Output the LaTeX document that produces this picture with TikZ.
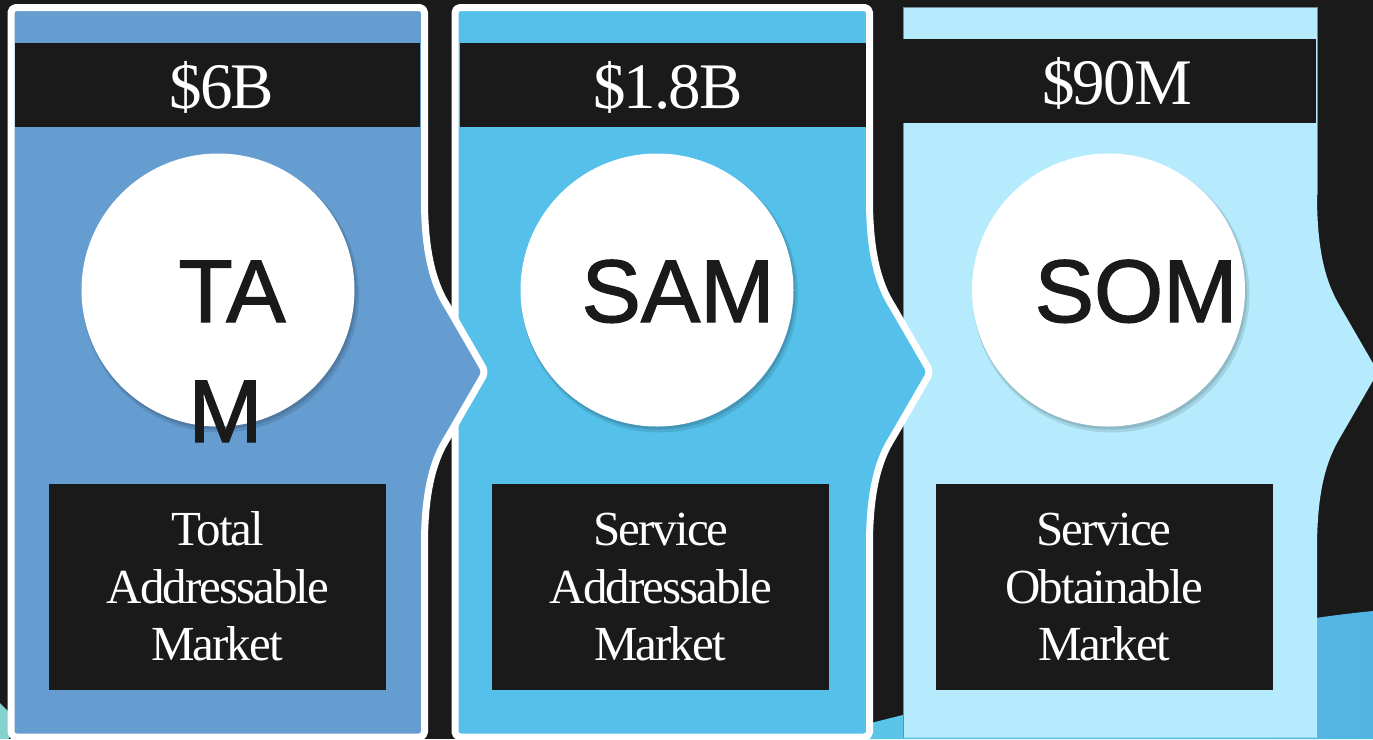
\documentclass[tikz,border=0pt]{standalone}
\usepackage{fontspec}
\setmainfont{Liberation Serif}
\newfontfamily\sansf[FakeBold=1.5]{Liberation Sans}
\newfontfamily\boxf[LetterSpace=-4]{Liberation Serif}
\newfontfamily\headf[LetterSpace=-3]{Liberation Serif}
\definecolor{dark}{HTML}{1A1A1A}
\definecolor{cA}{HTML}{659DD1}
\definecolor{cB}{HTML}{55C1EA}
\definecolor{cC}{HTML}{B5EBFC}
\definecolor{waveL}{HTML}{5CC6E8}
\definecolor{waveR}{HTML}{52B4E3}
\definecolor{teal}{HTML}{84D2CD}
\definecolor{edgeC}{HTML}{6E8C9C}
\newcommand\arrowside[1]{-- (#1,195) .. controls (#1,255) and (#1+10,285) .. (#1+24,308) -- (#1+61,372) -- (#1+24,436) .. controls (#1+10,459) and (#1,489) .. (#1,549)}
\begin{document}
\begin{tikzpicture}[x=1pt,y=-1pt,
  panel/.style={draw=white, line width=7pt, line join=round, rounded corners=5pt},
  hbar/.style={fill=dark, draw=none, inner sep=0pt, minimum height=84pt},
  hval/.style={text=white, font=\headf\fontsize{65}{78}\selectfont, anchor=base, inner sep=0pt},
  disc/.style={circle, fill=white, inner sep=0pt, minimum size=273pt},
  abbr/.style={text=dark, font=\sansf\fontsize{89}{100}\selectfont, anchor=base, inner sep=0pt},
  bbox/.style={fill=dark, draw=none, inner sep=0pt, minimum width=337pt, minimum height=206pt},
  bline/.style={text=white, font=\boxf\fontsize{49}{58}\selectfont, anchor=base, inner sep=0pt}]
\useasboundingbox (0,0) rectangle (1373,739);
\fill[dark] (0,0) rectangle (1373,739);
% background accents
\fill[teal] (0,703) -- (9,712) -- (9,739) -- (0,739) -- cycle;
\shade[left color=waveL, right color=waveR] (850,739) -- (850,728) .. controls (1050,680) and (1200,628) .. (1373,611) -- (1373,739) -- cycle;
% panel 3 (SOM)
\fill[cC] (903,737.5) -- (903,7) -- (1317,7) \arrowside{1317} -- (1317,737.5) -- cycle;
\draw[edgeC, line width=0.8pt] (903,737.5) -- (903,7) -- (1317,7) -- (1317,195);
% panel 2 (SAM)
\draw[panel, fill=cB] (455,737) -- (455,7.5) -- (869.5,7.5) \arrowside{869.5} -- (869.5,737) -- cycle;
% panel 1 (TAM)
\draw[panel, fill=cA] (11,737) -- (11,7.5) -- (424.5,7.5) \arrowside{424.5} -- (424.5,737) -- cycle;
% header bars
\node[hbar, minimum width=405pt] (h1) at (217.5,85) {};
\node[hbar, minimum width=406pt] (h2) at (663,85) {};
\node[hbar, minimum width=413pt] (h3) at (1109.5,81) {};
\node[hval] (v1) at (222,108) {\$6B};
\node[hval] (v2) at (668,108) {\$1.8B};
\node[hval] (v3) at (1117,104) {\$90M};
% circles with soft shadow
\foreach \cx/\nm in {218/c1, 657/c2, 1108.5/c3}{
  \fill[black, opacity=0.10] (\cx+2.5,294) circle (138.5);
  \fill[black, opacity=0.12] (\cx+1.5,292.5) circle (137);
  \node[disc] (\nm) at (\cx,290) {};
}
\node[abbr] (a1) at (232,322) {TA};
\node[abbr] (a1m) at (225.5,442) {M};
\node[abbr] (a2) at (678,322) {SAM};
\node[abbr] (a3) at (1136,322) {SOM};
% bottom boxes
\node[bbox] (b1) at (217.5,587) {};
\node[bbox] (b2) at (660.5,587) {};
\node[bbox] (b3) at (1104.5,587) {};
\node[bline] (t1a) at (218,545) {Total};
\node[bline] (t1b) at (218,603) {Addressable};
\node[bline] (t1c) at (217,660) {Market};
\node[bline] (t2a) at (661,545) {Service};
\node[bline] (t2b) at (661,603) {Addressable};
\node[bline] (t2c) at (660,660) {Market};
\node[bline] (t3a) at (1104,545) {Service};
\node[bline] (t3b) at (1104,603) {Obtainable};
\node[bline] (t3c) at (1104,660) {Market};
\end{tikzpicture}
\end{document}
